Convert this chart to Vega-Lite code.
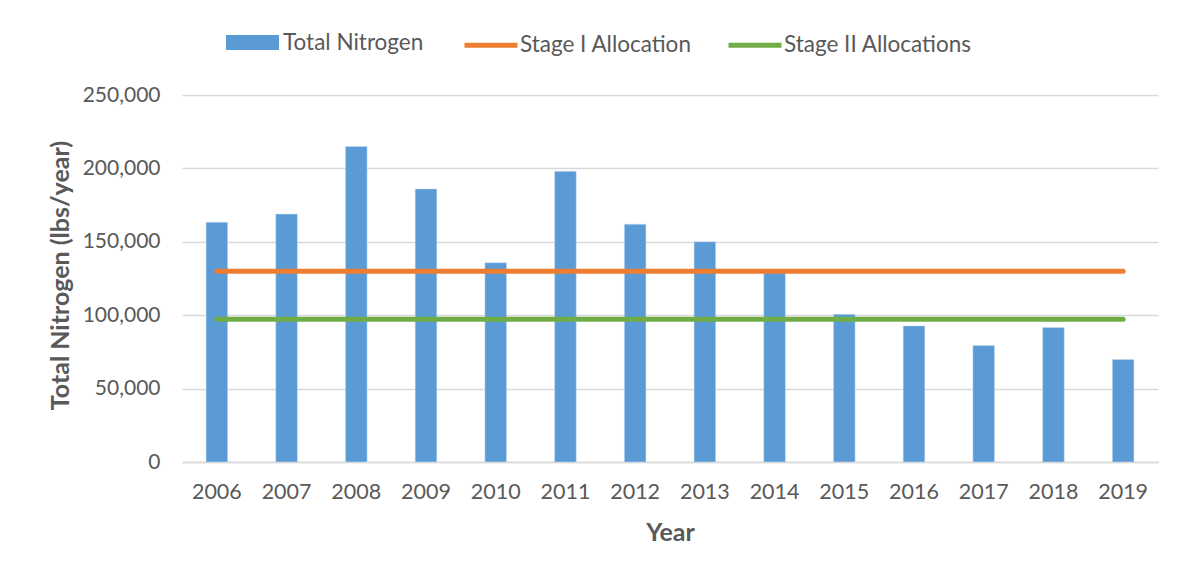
{
  "$schema": "https://vega.github.io/schema/vega-lite/v6.json",
  "width": 976,
  "height": 367,
  "autosize": {"type": "none"},
  "padding": {"left": 182, "top": 95, "right": 20, "bottom": 115},
  "background": "white",
  "config": {"view": {"stroke": null}, "font": "Lato"},
  "datasets": {
    "nitrogen": [
      {"year": "2006", "series": "Total Nitrogen", "value": 163300},
      {"year": "2007", "series": "Total Nitrogen", "value": 168900},
      {"year": "2008", "series": "Total Nitrogen", "value": 215000},
      {"year": "2009", "series": "Total Nitrogen", "value": 186000},
      {"year": "2010", "series": "Total Nitrogen", "value": 135800},
      {"year": "2011", "series": "Total Nitrogen", "value": 198000},
      {"year": "2012", "series": "Total Nitrogen", "value": 162000},
      {"year": "2013", "series": "Total Nitrogen", "value": 150000},
      {"year": "2014", "series": "Total Nitrogen", "value": 128800},
      {"year": "2015", "series": "Total Nitrogen", "value": 100600},
      {"year": "2016", "series": "Total Nitrogen", "value": 92700},
      {"year": "2017", "series": "Total Nitrogen", "value": 79300},
      {"year": "2018", "series": "Total Nitrogen", "value": 91600},
      {"year": "2019", "series": "Total Nitrogen", "value": 69800}
    ],
    "alloc": [
      {"year": "2006", "series": "Stage I Allocation", "value": 130000},
      {"year": "2007", "series": "Stage I Allocation", "value": 130000},
      {"year": "2008", "series": "Stage I Allocation", "value": 130000},
      {"year": "2009", "series": "Stage I Allocation", "value": 130000},
      {"year": "2010", "series": "Stage I Allocation", "value": 130000},
      {"year": "2011", "series": "Stage I Allocation", "value": 130000},
      {"year": "2012", "series": "Stage I Allocation", "value": 130000},
      {"year": "2013", "series": "Stage I Allocation", "value": 130000},
      {"year": "2014", "series": "Stage I Allocation", "value": 130000},
      {"year": "2015", "series": "Stage I Allocation", "value": 130000},
      {"year": "2016", "series": "Stage I Allocation", "value": 130000},
      {"year": "2017", "series": "Stage I Allocation", "value": 130000},
      {"year": "2018", "series": "Stage I Allocation", "value": 130000},
      {"year": "2019", "series": "Stage I Allocation", "value": 130000},
      {"year": "2006", "series": "Stage II Allocations", "value": 97300},
      {"year": "2007", "series": "Stage II Allocations", "value": 97300},
      {"year": "2008", "series": "Stage II Allocations", "value": 97300},
      {"year": "2009", "series": "Stage II Allocations", "value": 97300},
      {"year": "2010", "series": "Stage II Allocations", "value": 97300},
      {"year": "2011", "series": "Stage II Allocations", "value": 97300},
      {"year": "2012", "series": "Stage II Allocations", "value": 97300},
      {"year": "2013", "series": "Stage II Allocations", "value": 97300},
      {"year": "2014", "series": "Stage II Allocations", "value": 97300},
      {"year": "2015", "series": "Stage II Allocations", "value": 97300},
      {"year": "2016", "series": "Stage II Allocations", "value": 97300},
      {"year": "2017", "series": "Stage II Allocations", "value": 97300},
      {"year": "2018", "series": "Stage II Allocations", "value": 97300},
      {"year": "2019", "series": "Stage II Allocations", "value": 97300}
    ]
  },
  "layer": [
    {
      "data": {"name": "nitrogen"},
      "mark": {"type": "bar", "stroke": "#c9def2", "strokeWidth": 0.5},
      "encoding": {
        "x": {
          "field": "year",
          "type": "ordinal",
          "scale": {"paddingInner": 0.69, "paddingOuter": 0.345},
          "axis": {
            "title": "Year",
            "labelAngle": 0,
            "labelFontSize": 21.5,
            "labelColor": "#595959",
            "labelPadding": 19,
            "ticks": false,
            "domain": true,
            "domainColor": "#d9d9d9",
            "domainWidth": 1.5,
            "titleFontSize": 25,
            "titleFontWeight": "bold",
            "titleColor": "#595959",
            "titleY": 70,
            "titleBaseline": "middle"
          }
        },
        "y": {
          "field": "value",
          "type": "quantitative",
          "scale": {"domain": [0, 250000], "nice": false},
          "axis": {
            "title": "Total Nitrogen (lbs/year)",
            "values": [0, 50000, 100000, 150000, 200000, 250000],
            "format": ",d",
            "labelFontSize": 21,
            "labelColor": "#595959",
            "labelPadding": 22,
            "ticks": false,
            "domain": false,
            "gridColor": "#d9d9d9",
            "gridWidth": 1.5,
            "titleFontSize": 25,
            "titleFontWeight": "bold",
            "titleColor": "#595959",
            "titleX": -122,
            "titleY": 180,
            "titleAngle": -90,
            "titleBaseline": "middle",
            "titleAlign": "center"
          }
        },
        "fill": {
          "field": "series",
          "type": "nominal",
          "scale": {"domain": ["Total Nitrogen"], "range": ["#5B9BD5"]},
          "legend": {
            "title": null,
            "orient": "none",
            "direction": "horizontal",
            "legendX": 44,
            "legendY": -79,
            "labelFontSize": 22.5,
            "labelColor": "#595959",
            "labelLimit": 400,
            "symbolType": "M-1,-0.283H1V0.283H-1Z",
            "symbolSize": 2809,
            "symbolStrokeWidth": 0,
            "symbolOpacity": 1,
            "labelOffset": 4
          }
        }
      }
    },
    {
      "data": {"name": "alloc"},
      "mark": {"type": "line", "strokeWidth": 5, "strokeCap": "round"},
      "encoding": {
        "x": {"field": "year", "type": "ordinal"},
        "y": {"field": "value", "type": "quantitative"},
        "stroke": {
          "field": "series",
          "type": "nominal",
          "scale": {
            "domain": ["Stage I Allocation", "Stage II Allocations"],
            "range": ["#ED7D31", "#70AD47"]
          },
          "legend": {
            "title": null,
            "orient": "none",
            "direction": "horizontal",
            "legendX": 280,
            "legendY": -79,
            "labelFontSize": 22.5,
            "labelColor": "#595959",
            "labelLimit": 400,
            "symbolType": "stroke",
            "symbolSize": 2809,
            "symbolStrokeWidth": 5,
            "symbolOpacity": 1,
            "labelOffset": 0,
            "columnPadding": 26
          }
        }
      }
    }
  ],
  "resolve": {"scale": {"x": "shared", "y": "shared"}}
}
